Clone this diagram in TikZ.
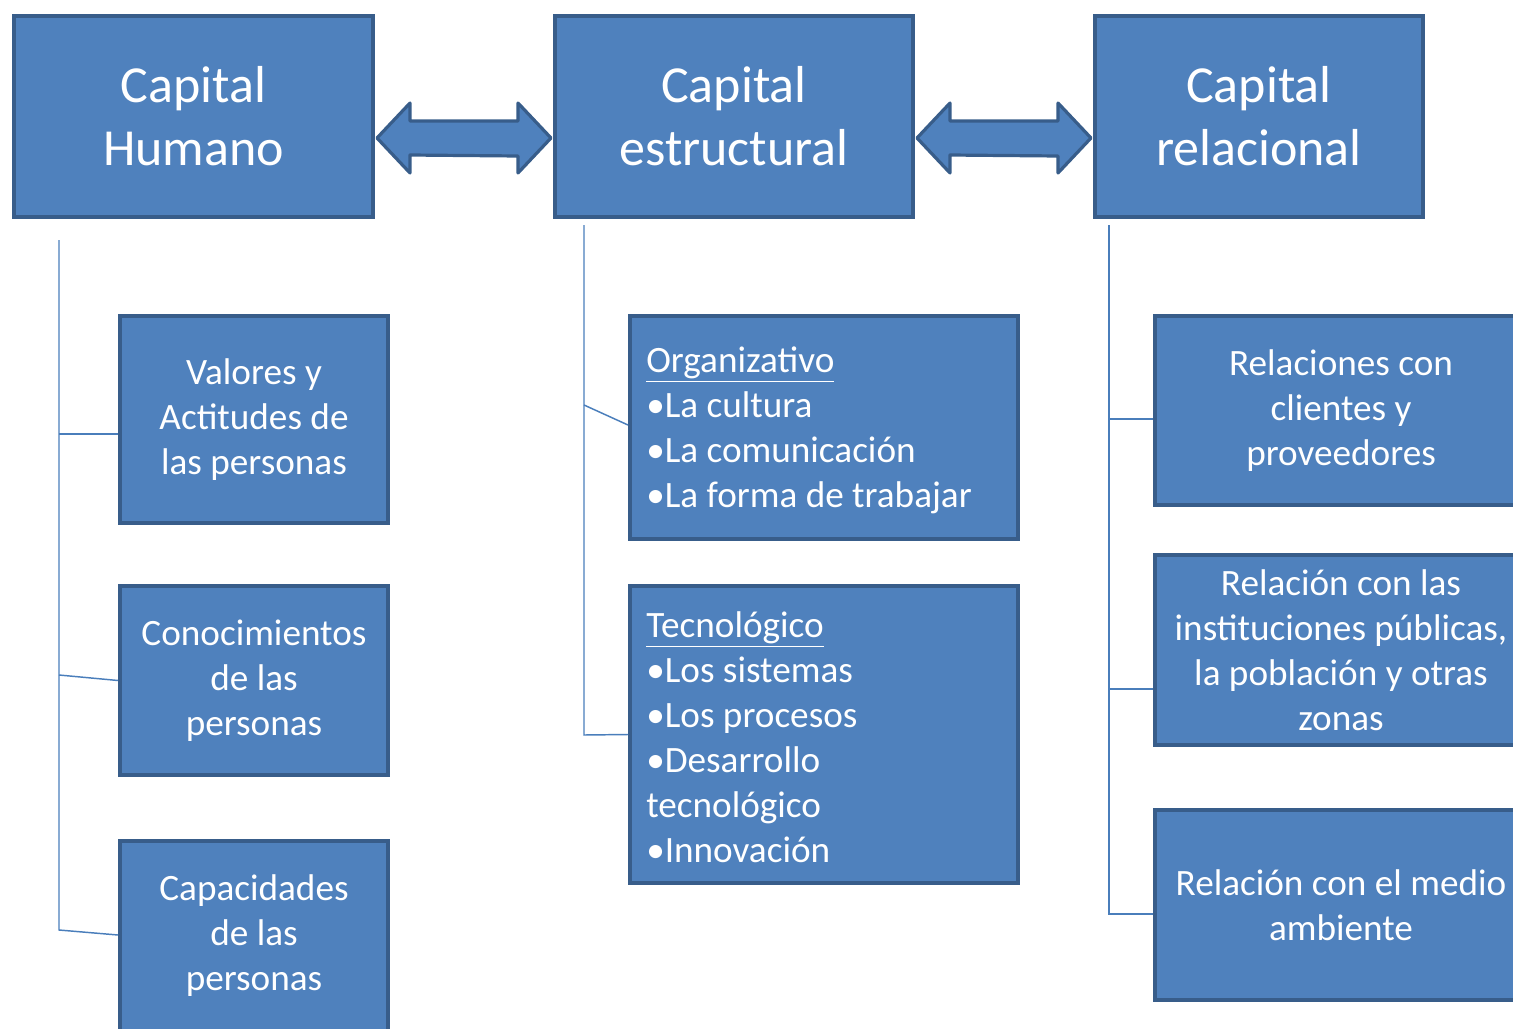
\documentclass[tikz,border=0pt]{standalone}
\usepackage{fontspec}
\setmainfont{Carlito}
\usetikzlibrary{calc}
\definecolor{boxfill}{HTML}{4F81BD}
\definecolor{boxline}{HTML}{385D8A}
\definecolor{connline}{HTML}{4A7EBB}
\newcommand\bigtxt{\fontsize{39pt}{47.25pt}\selectfont}
\newcommand\smalltxt{\fontsize{27.9pt}{33.75pt}\selectfont}
\tikzset{
  box/.style={draw=boxline, fill=boxfill, line width=3pt, text=white, inner sep=0pt, align=center},
  topbox/.style={box, font=\bigtxt},
  subbox/.style={box, font=\smalltxt},
  listtext/.style={text=white, font=\smalltxt, align=left, inner sep=0pt, anchor=west},
  conn/.style={draw=connline, line width=1.1pt},
  bigarrow/.style={draw=boxline, fill=boxfill, line width=2.4pt, line join=round}
}
\begin{document}
\begin{tikzpicture}[x=0.75pt, y=-0.75pt]
\useasboundingbox (0,0) rectangle (1513,1028);
% top boxes
\node[topbox, minimum width=359*0.75pt, minimum height=201*0.75pt] (hum) at (193.5,116.5) {Capital\\Humano};
\node[topbox, minimum width=358*0.75pt, minimum height=201*0.75pt] (est) at (734,116.5) {Capital\\estructural};
\node[topbox, minimum width=328*0.75pt, minimum height=201*0.75pt] (rel) at (1259,116.5) {Capital\\relacional};
% left column
\node[subbox, minimum width=268*0.75pt, minimum height=207*0.75pt] (v1) at (254,419.5) {Valores y\\Actitudes de\\las personas};
\node[subbox, minimum width=268*0.75pt, minimum height=189*0.75pt] (v2) at (254,680.5) {Conocimientos\\de las\\personas};
\node[subbox, minimum width=268*0.75pt, minimum height=190*0.75pt] (v3) at (254,936) {Capacidades\\de las\\personas};
% middle column
\node[box, minimum width=388*0.75pt, minimum height=223*0.75pt] (o1) at (824,427.5) {};
\node[listtext] (o1t) at ($(o1.west)+(18,3)$) {\underline{Organizativo}\\•La cultura\\•La comunicación\\•La forma de trabajar};
\node[box, minimum width=388*0.75pt, minimum height=297*0.75pt] (o2) at (824,734.5) {};
\node[listtext] (o2t) at ($(o2.west)+(18,3)$) {\underline{Tecnológico}\\•Los sistemas\\•Los procesos\\•Desarrollo\\tecnológico\\•Innovación};
% right column
\node[subbox, minimum width=372*0.75pt, minimum height=189*0.75pt] (r1) at (1341,410.5) {Relaciones con\\clientes y\\proveedores};
\node[subbox, minimum width=372*0.75pt, minimum height=190*0.75pt] (r2) at (1341,650) {Relación con las\\instituciones públicas,\\la población y otras\\zonas};
\node[subbox, minimum width=372*0.75pt, minimum height=190*0.75pt] (r3) at (1341,905) {Relación con el medio\\ambiente};
% double arrows
\coordinate (a1) at ($(hum.east)+(2,21.5)$);
\coordinate (a2) at ($(est.west)+(-2,21.5)$);
\draw[bigarrow] (a1) -- ++(33,-35) -- ++(0,18) -- ($(a2)+(-33,-17)$) -- ++(0,-18) -- (a2) -- ++(-33,35) -- ++(0,-17) -- ($(a1)+(33,17)$) -- ++(0,18) -- cycle;
\coordinate (b1) at ($(est.east)+(2,21.5)$);
\coordinate (b2) at ($(rel.west)+(-2,21.5)$);
\draw[bigarrow] (b1) -- ++(33,-35) -- ++(0,18) -- ($(b2)+(-33,-17)$) -- ++(0,-18) -- (b2) -- ++(-33,35) -- ++(0,-17) -- ($(b1)+(33,17)$) -- ++(0,18) -- cycle;
% connectors left
\coordinate (lt) at (59,240);
\coordinate (lb) at (59,930);
\draw[conn] (lt) -- (lb) -- ($(v3.west)+(0,-1)$);
\draw[conn] (59,434) -- (v1.west |- 0,434);
\draw[conn] (59,675) -- (v2.west);
% connectors middle
\coordinate (mt) at (584,225);
\coordinate (mb) at (584,735);
\draw[conn] (mt) -- (mb) -- (o2.west);
\draw[conn] (584,405) -- (o1.west |- 0,425);
% connectors right
\coordinate (rt) at (1109,225);
\coordinate (rb) at (1109,914);
\draw[conn] (rt) -- (rb) -- (r3.west |- 0,914);
\draw[conn] (1109,419) -- (r1.west |- 0,419);
\draw[conn] (1109,689) -- (r2.west |- 0,689);
\end{tikzpicture}
\end{document}
